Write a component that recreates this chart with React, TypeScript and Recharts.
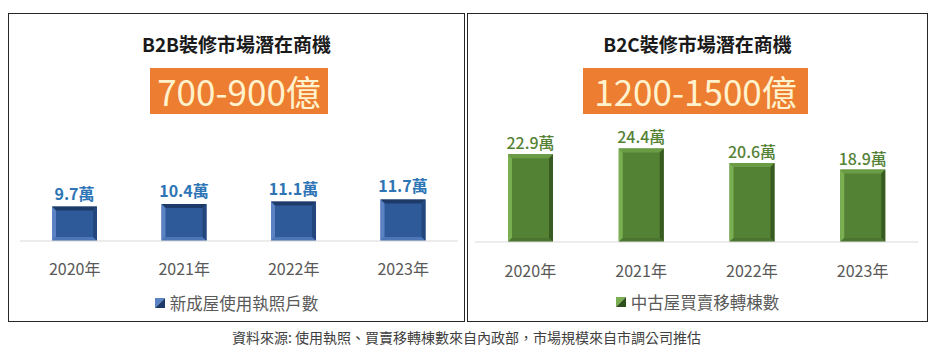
import React from "react";
import { BarChart, Bar, XAxis, YAxis, LabelList } from "recharts";

const years = ["2020年", "2021年", "2022年", "2023年"];
const b2bValues = [9.7, 10.4, 11.1, 11.7];
const b2cValues = [22.9, 24.4, 20.6, 18.9];
const b2bTitle = "B2B裝修市場潛在商機";
const b2cTitle = "B2C裝修市場潛在商機";
const b2bSize = "700-900億";
const b2cSize = "1200-1500億";
const b2bSeries = "新成屋使用執照戶數";
const b2cSeries = "中古屋買賣移轉棟數";
const caption = "資料來源: 使用執照、買賣移轉棟數來自內政部，市場規模來自市調公司推估";

const b2bData = years.map((y, i) => ({ year: y, value: b2bValues[i] }));
const b2cData = years.map((y, i) => ({ year: y, value: b2cValues[i] }));

const FONT = "'Noto Sans CJK TC', 'Noto Sans', sans-serif";

type Pal = { main: string; top: string; left: string; right: string; bottom: string };
const bluePal: Pal = { main: "#2E5A9A", top: "#1E3A68", left: "#5A82C4", right: "#23467C", bottom: "#4C76B8" };
const greenPal: Pal = { main: "#548235", top: "#6A9C45", left: "#79AF50", right: "#385B22", bottom: "#4A7430" };

const makeBevel = (p: Pal) => (props: any) => {
  const { x, y, width: w, height: h } = props;
  if (w == null || h == null || h <= 0) return <g />;
  const b = 4;
  return (
    <g>
      <rect x={x} y={y} width={w} height={h} fill={p.main} />
      <polygon points={`${x},${y} ${x + w},${y} ${x + w - b},${y + b} ${x + b},${y + b}`} fill={p.top} />
      <polygon points={`${x},${y} ${x + b},${y + b} ${x + b},${y + h - b} ${x},${y + h}`} fill={p.left} />
      <polygon points={`${x + w},${y} ${x + w},${y + h} ${x + w - b},${y + h - b} ${x + w - b},${y + b}`} fill={p.right} />
      <polygon points={`${x},${y + h} ${x + b},${y + h - b} ${x + w - b},${y + h - b} ${x + w},${y + h}`} fill={p.bottom} />
    </g>
  );
};

const makeTick = (dy: number) => (props: any) => {
  const { x, y, payload } = props;
  return (
    <text x={x} y={y + dy} textAnchor="middle" dominantBaseline="central" fill="#595959" fontSize={16} fontFamily={FONT}>
      {payload.value}
    </text>
  );
};

const makeLabel = (color: string, weight: number, off: number) => (props: any) => {
  const { x, y, width, value } = props;
  return (
    <text x={x + width / 2} y={y - off} textAnchor="middle" dominantBaseline="central" fill={color} fontSize={16} fontWeight={weight} fontFamily={FONT}>
      {value}萬
    </text>
  );
};

const LegendIcon = ({ light, dark }: { light: string; dark: string }) => (
  <svg width={10} height={10} style={{ marginRight: 5 }}>
    <polygon points="0,0 10,0 0,10" fill={light} />
    <polygon points="10,0 10,10 0,10" fill={dark} />
  </svg>
);

const abs = (l: number, t: number, w: number, h: number): React.CSSProperties => ({
  position: "absolute", left: l, top: t, width: w, height: h,
});

const Header = ({ left, width, title, size, boxLeft, boxWidth }: any) => (
  <>
    <div style={{ ...abs(left, 30, width, 28), textAlign: "center", fontSize: 19, fontWeight: 700, color: "#1a1a1a", lineHeight: "28px", fontFamily: FONT }}>
      {title}
    </div>
    <div style={{ ...abs(boxLeft, 68, boxWidth, 46), background: "#ED7D31", color: "#FFF2CC", fontSize: 35, lineHeight: "46px", textAlign: "center", fontFamily: FONT }}>
      {size}
    </div>
  </>
);

export default function App() {
  return (
    <div style={{ ...abs(0, 0, 933, 360), background: "#fff", fontFamily: FONT }}>
      <div style={{ ...abs(8, 13, 457, 309), border: "1.5px solid #262626", boxSizing: "border-box" }} />
      <div style={{ ...abs(467, 13, 461, 309), border: "1.5px solid #262626", boxSizing: "border-box" }} />

      <Header left={8} width={457} title={b2bTitle} size={b2bSize} boxLeft={150} boxWidth={178} />
      <Header left={467} width={461} title={b2cTitle} size={b2cSize} boxLeft={583} boxWidth={225} />

      <div style={abs(8, 13, 457, 308)}>
        <BarChart width={457} height={308} data={b2bData} margin={{ top: 121.5, right: 7, bottom: 0, left: 12 }}>
          <XAxis dataKey="year" height={80} tickSize={0} tickMargin={0} axisLine={{ stroke: "#D9D9D9" }} tickLine={false} tick={makeTick(27)} />
          <YAxis hide domain={[0, 30]} />
          <Bar dataKey="value" barSize={45} isAnimationActive={false} shape={makeBevel(bluePal)}>
            <LabelList dataKey="value" content={makeLabel("#2E75B6", 700, 14)} />
          </Bar>
        </BarChart>
      </div>

      <div style={abs(467, 13, 461, 308)}>
        <BarChart width={461} height={308} data={b2cData} margin={{ top: 114, right: 10, bottom: 0, left: 8 }}>
          <XAxis dataKey="year" height={79} tickSize={0} tickMargin={0} axisLine={{ stroke: "#D9D9D9" }} tickLine={false} tick={makeTick(28)} />
          <YAxis hide domain={[0, 30]} />
          <Bar dataKey="value" barSize={45} isAnimationActive={false} shape={makeBevel(greenPal)}>
            <LabelList dataKey="value" content={makeLabel("#548235", 500, 12)} />
          </Bar>
        </BarChart>
      </div>

      <div style={{ ...abs(8, 291, 457, 24), display: "flex", alignItems: "center", justifyContent: "center", fontSize: 16.5, color: "#595959" }}>
        <LegendIcon light="#5A82C4" dark="#1E3A68" />
        <span>{b2bSeries}</span>
      </div>
      <div style={{ ...abs(467, 290, 461, 24), display: "flex", alignItems: "center", justifyContent: "center", fontSize: 16.5, color: "#595959" }}>
        <LegendIcon light="#79AF50" dark="#2F4F1C" />
        <span>{b2cSeries}</span>
      </div>

      <div style={{ ...abs(0, 327, 933, 20), textAlign: "center", fontSize: 14, color: "#404040", lineHeight: "20px" }}>
        {caption}
      </div>
    </div>
  );
}
